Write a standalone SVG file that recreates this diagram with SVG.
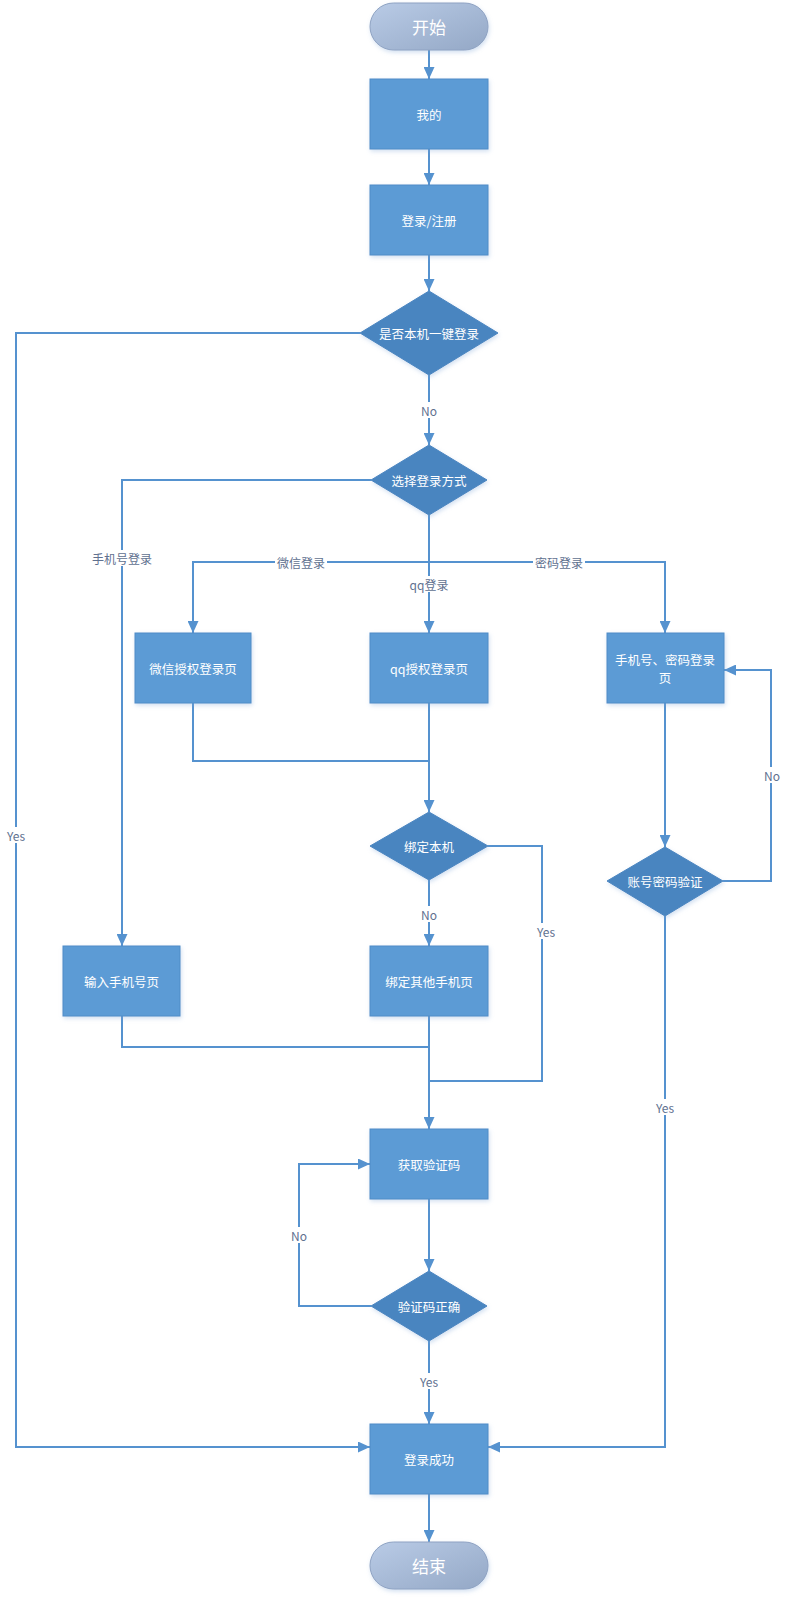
<svg xmlns="http://www.w3.org/2000/svg" width="786" height="1599" viewBox="0 0 786 1599">
<defs>
<linearGradient id="term" x1="0" y1="0" x2="1" y2="1">
<stop offset="0" stop-color="#b9cbe6"/>
<stop offset="1" stop-color="#94a8c6"/>
</linearGradient>
<filter id="sh" x="-20%" y="-20%" width="140%" height="140%">
<feDropShadow dx="1" dy="2" stdDeviation="2" flood-color="#7fa6d6" flood-opacity="0.35"/>
</filter>
<marker id="ar" markerUnits="userSpaceOnUse" markerWidth="12" markerHeight="11" refX="12" refY="5.5" orient="auto">
<path d="M0,0 L12,5.5 L0,11 z" fill="#5592cf"/>
</marker>
<style>
.box{fill:#5b9bd5;stroke:#4f8cc7;stroke-width:1;filter:url(#sh)}
.dia{fill:#4a85c0;stroke:#4a85c0;stroke-width:1;filter:url(#sh)}
.term{fill:url(#term);stroke:#8ea2c2;stroke-width:1;filter:url(#sh)}
.t{font-family:"Noto Sans CJK SC","Liberation Sans",sans-serif;font-size:12.5px;fill:#ffffff;text-anchor:middle;dominant-baseline:central}
.tt{font-family:"Noto Sans CJK SC","Liberation Sans",sans-serif;font-size:17px;fill:#ffffff;text-anchor:middle;dominant-baseline:central}
.c{fill:none;stroke:#5592cf;stroke-width:2}
.ca{fill:none;stroke:#5592cf;stroke-width:2;marker-end:url(#ar)}
.lb{font-family:"Noto Sans CJK SC","Liberation Sans",sans-serif;font-size:12px;fill:#5f7190;text-anchor:middle;dominant-baseline:central}
.bg{fill:#ffffff}
</style>
</defs>
<rect width="786" height="1599" fill="#ffffff"/>
<g id="connectors">
<path class="ca" d="M429,50 V79"/>
<path class="ca" d="M429,149 V185"/>
<path class="ca" d="M429,255 V291"/>
<path class="ca" d="M429,375 V445"/>
<path class="ca" d="M360,333 H16 V1447 H370"/>
<path class="ca" d="M371,480 H122 V946"/>
<path class="ca" d="M429,515 V633"/>
<path class="ca" d="M429,562 H193 V633"/>
<path class="ca" d="M429,562 H665 V633"/>
<path class="c" d="M193,703 V761 H429"/>
<path class="ca" d="M429,703 V812"/>
<path class="c" d="M488,846 H542 V1081 H429"/>
<path class="ca" d="M429,880 V946"/>
<path class="c" d="M122,1016 V1047 H429"/>
<path class="ca" d="M429,1016 V1129"/>
<path class="ca" d="M429,1199 V1271"/>
<path class="ca" d="M371,1306 H299 V1164 H370"/>
<path class="ca" d="M429,1341 V1424"/>
<path class="ca" d="M665,703 V847"/>
<path class="ca" d="M723,881 H771 V670 H724"/>
<path class="ca" d="M665,916 V1447 H488"/>
<path class="ca" d="M429,1494 V1542"/>
<g id="labels">
<rect class="bg" x="416" y="402" width="26" height="16"/><text class="lb" x="429" y="410">No</text>
<rect class="bg" x="3" y="827" width="26" height="16"/><text class="lb" x="16" y="835">Yes</text>
<rect class="bg" x="88" y="550" width="68" height="16"/><text class="lb" x="122" y="558">手机号登录</text>
<rect class="bg" x="275" y="554" width="52" height="16"/><text class="lb" x="301" y="562">微信登录</text>
<rect class="bg" x="533" y="554" width="52" height="16"/><text class="lb" x="559" y="562">密码登录</text>
<rect class="bg" x="407" y="576" width="44" height="16"/><text class="lb" x="429" y="584">qq登录</text>
<rect class="bg" x="533" y="923" width="26" height="16"/><text class="lb" x="546" y="931">Yes</text>
<rect class="bg" x="416" y="906" width="26" height="16"/><text class="lb" x="429" y="914">No</text>
<rect class="bg" x="286" y="1227" width="26" height="16"/><text class="lb" x="299" y="1235">No</text>
<rect class="bg" x="416" y="1373" width="26" height="16"/><text class="lb" x="429" y="1381">Yes</text>
<rect class="bg" x="759" y="767" width="26" height="16"/><text class="lb" x="772" y="775">No</text>
<rect class="bg" x="652" y="1099" width="26" height="16"/><text class="lb" x="665" y="1107">Yes</text>
</g>
</g>
<g id="start"><rect class="term" x="370" y="3" width="118" height="47" rx="23.5"/><text class="tt" x="429" y="26.5">开始</text></g>
<g id="mine"><rect class="box" x="370" y="79" width="118" height="70"/><text class="t" x="429" y="114">我的</text></g>
<g id="login-register"><rect class="box" x="370" y="185" width="118" height="70"/><text class="t" x="429" y="220">登录/注册</text></g>
<g id="one-key"><polygon class="dia" points="429,291 498,333 429,375 360,333"/><text class="t" x="429" y="333">是否本机一键登录</text></g>
<g id="choose"><polygon class="dia" points="429,445 487,480 429,515 371,480"/><text class="t" x="429" y="480">选择登录方式</text></g>
<g id="wechat"><rect class="box" x="135" y="633" width="116" height="70"/><text class="t" x="193" y="668">微信授权登录页</text></g>
<g id="qq"><rect class="box" x="370" y="633" width="118" height="70"/><text class="t" x="429" y="668">qq授权登录页</text></g>
<g id="pwd-page"><rect class="box" x="607" y="633" width="117" height="70"/><text class="t" x="665" y="659">手机号、密码登录</text><text class="t" x="665" y="677">页</text></g>
<g id="bind-local"><polygon class="dia" points="429,812 488,846 429,880 370,846"/><text class="t" x="429" y="846">绑定本机</text></g>
<g id="pwd-verify"><polygon class="dia" points="665,847 723,881 665,916 607,881"/><text class="t" x="665" y="881">账号密码验证</text></g>
<g id="input-phone"><rect class="box" x="63" y="946" width="117" height="70"/><text class="t" x="121.5" y="981">输入手机号页</text></g>
<g id="bind-other"><rect class="box" x="370" y="946" width="118" height="70"/><text class="t" x="429" y="981">绑定其他手机页</text></g>
<g id="get-code"><rect class="box" x="370" y="1129" width="118" height="70"/><text class="t" x="429" y="1164">获取验证码</text></g>
<g id="code-ok"><polygon class="dia" points="429,1271 487,1306 429,1341 371,1306"/><text class="t" x="429" y="1306">验证码正确</text></g>
<g id="success"><rect class="box" x="370" y="1424" width="118" height="70"/><text class="t" x="429" y="1459">登录成功</text></g>
<g id="end"><rect class="term" x="370" y="1542" width="118" height="47" rx="23.5"/><text class="tt" x="429" y="1565.5">结束</text></g>
</svg>
